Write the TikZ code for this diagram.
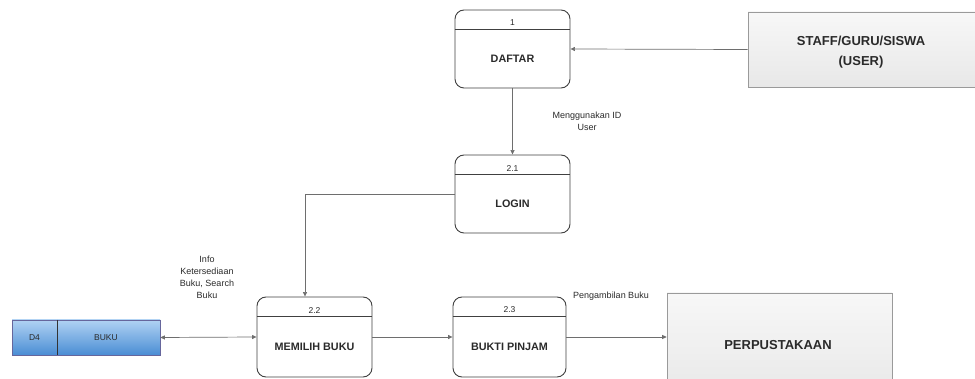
\documentclass[tikz,border=0pt]{standalone}
\usepackage{fontspec}
\setmainfont{Liberation Sans}
\usetikzlibrary{arrows.meta,calc,shadows}
\definecolor{linec}{HTML}{6E6E6E}
\definecolor{txt}{HTML}{2A2A2A}
\definecolor{boxb}{HTML}{9A9A9A}
\begin{document}
\begin{tikzpicture}[x=1pt,y=-1pt,
  proc/.style={draw=black!75, line width=0.9pt, rounded corners=9pt, inner sep=0pt, fill=white},
  ext/.style={draw=boxb, line width=0.6pt, top color=black!3, bottom color=black!9, inner sep=0pt, drop shadow={shadow xshift=1pt, shadow yshift=-1pt, fill=black!20, opacity=0.6}},
  arr/.style={draw=linec, line width=0.7pt, -{Triangle[length=4.5pt,width=4pt]}},
  darr/.style={draw=linec, line width=0.7pt, {Triangle[length=4.5pt,width=4pt]}-{Triangle[length=4.5pt,width=4pt]}},
  num/.style={font=\fontsize{8.5}{10}\selectfont, text=txt, inner sep=0pt},
  ptxt/.style={font=\fontsize{10.8}{12}\selectfont\bfseries, text=txt, inner sep=0pt},
  lbl/.style={font=\fontsize{9}{12}\selectfont, text=txt, align=center, inner sep=0pt},
  etxt/.style={font=\fontsize{13}{20}\selectfont\bfseries, text=txt, align=center, inner sep=0pt}
]
\useasboundingbox (0,0) rectangle (975,379);
\clip (0,0) rectangle (975,379);

% process boxes
\node[proc, minimum width=115pt, minimum height=78pt] (p1) at (512.5,49) {};
\node[proc, minimum width=115pt, minimum height=78pt] (p21) at (512.5,194) {};
\node[proc, minimum width=115pt, minimum height=80pt] (p22) at (314.5,337) {};
\node[proc, minimum width=113pt, minimum height=80pt] (p23) at (509.5,337) {};

\foreach \p/\n/\t in {p1/1/DAFTAR, p21/2.1/LOGIN, p22/2.2/MEMILIH BUKU, p23/2.3/BUKTI PINJAM}{
  \draw[black!75, line width=0.9pt] ($(\p.north west)+(0,20)$) coordinate (\p hl) -- ($(\p.north east)+(0,20)$) coordinate (\p hr);
  \node[num] (\p num) at ($(\p.north)+(0,13.5)$) {\n};
  \node[ptxt] (\p txt) at ($(\p.south)!0.5!(\p.north)+(0,10)$) {\t};
}

% external entities
\node[ext, minimum width=232pt, minimum height=75pt] (staff) at (864,49.5) {};
\node[etxt] (stafftxt) at (861,52) {STAFF/GURU/SISWA\\(USER)};
\node[ext, minimum width=225pt, minimum height=104pt] (perp) at (779.5,345) {};
\node[etxt] (perptxt) at (778,345) {PERPUSTAKAAN};

% data store
\node[draw=black!65!blue!60, line width=0.6pt, top color={rgb,255:red,176;green,210;blue,243}, bottom color={rgb,255:red,74;green,141;blue,212}, minimum width=148pt, minimum height=35pt, inner sep=0pt] (d4) at (86,337.5) {};
\draw[black!80, line width=1pt] (57,320) coordinate (dtop) -- (57,355) coordinate (dbot);
\node[font=\fontsize{8.5}{10}\selectfont, text=txt] (d4a) at (34.5,337.5) {D4};
\node[font=\fontsize{8.5}{10}\selectfont, text=txt] (d4b) at (106,337.5) {BUKU};

% connectors
\draw[arr] (staff.west) -- (p1.east);
\draw[arr] (p1.south) -- (p21.north);
\coordinate (p22in) at ($(p22.north)+(-9.5,0)$);
\draw[arr] (p21.west) -| (p22in);
\draw[darr] (d4.east) -- (p22.west);
\draw[arr] (p22.east) -- (p23.west);
\draw[arr] (p23.east) -- (p23.east -| perp.west);

% labels
\node[lbl] (l1) at (587,121) {Menggunakan ID\\User};
\node[lbl] (l2) at (207,277) {Info\\Ketersediaan\\Buku, Search\\Buku};
\node[lbl] (l3) at (611,296) {Pengambilan Buku};
\end{tikzpicture}
\end{document}
